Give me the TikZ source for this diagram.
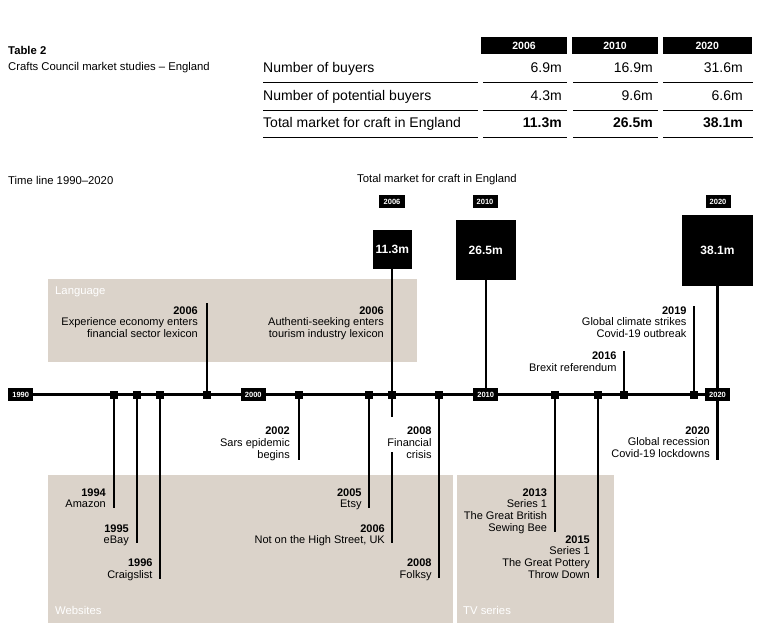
\documentclass[tikz,border=0pt]{standalone}
\usepackage{fontspec}
\setmainfont{Liberation Sans}
\definecolor{panel}{RGB}{219,211,202}
\begin{document}
\begin{tikzpicture}[x=1pt,y=-1pt,
 lbl/.style={font=\fontsize{11}{11.6}\selectfont, align=right, inner sep=0, anchor=north east},
 txt/.style={font=\fontsize{11.3}{12}\selectfont, inner sep=0, anchor=west},
 mk/.style={fill=black, minimum size=8, inner sep=0},
 yr/.style={fill=black, text=white, font=\fontsize{7.5}{8}\selectfont\bfseries, minimum width=25, minimum height=13, inner sep=0},
 big/.style={fill=black, text=white, font=\fontsize{12}{13}\selectfont\bfseries, inner sep=0},
 conn/.style={line width=2.2},
 hdr/.style={fill=black, text=white, font=\fontsize{10.5}{11}\selectfont\bfseries, minimum height=17, inner sep=0},
 rowl/.style={font=\fontsize{14}{15}\selectfont, inner sep=0, text height=10, text depth=2.8, anchor=west},
 rowv/.style={font=\fontsize{14}{15}\selectfont, inner sep=0, text height=10, text depth=2.8, anchor=east},
 rule/.style={line width=1},
]
\useasboundingbox (0,0) rectangle (782,640);

% ---------- Table ----------
\node[txt, font=\fontsize{11.3}{12}\selectfont\bfseries] (t2) at (8,50) {Table 2};
\node[txt] (t2s) at (8,68) {Crafts Council market studies – England};

\node[hdr, minimum width=86] (h2006) at (524,45.5) {2006};
\node[hdr, minimum width=86.6] (h2010) at (615,45.5) {2010};
\node[hdr, minimum width=89] (h2020) at (707.2,45.5) {2020};

\node[rowl] (r1) at (263,69) {Number of buyers};
\node[rowl] (r2) at (263,97) {Number of potential buyers};
\node[rowl] (r3) at (263,124) {Total market for craft in England};

\node[rowv] (v11) at (562,69) {6.9m};
\node[rowv] (v12) at (653,69) {16.9m};
\node[rowv] (v13) at (743,69) {31.6m};
\node[rowv] (v21) at (562,97) {4.3m};
\node[rowv] (v22) at (653,97) {9.6m};
\node[rowv] (v23) at (743,97) {6.6m};
\node[rowv, font=\fontsize{14}{15}\selectfont\bfseries] (v31) at (562,124) {11.3m};
\node[rowv, font=\fontsize{14}{15}\selectfont\bfseries] (v32) at (653,124) {26.5m};
\node[rowv, font=\fontsize{14}{15}\selectfont\bfseries] (v33) at (743,124) {38.1m};

\foreach \yy in {82.3,110,137.3}{
  \draw[rule] (263,\yy) -- (478,\yy);
  \draw[rule] (483,\yy) -- (567,\yy);
  \draw[rule] (573,\yy) -- (658,\yy);
  \draw[rule] (663,\yy) -- (753,\yy);
}

% ---------- Panels ----------
\fill[panel] (48,279) rectangle (417,362);
\fill[panel] (48,475) rectangle (453,623);
\fill[panel] (457,475) rectangle (614,623);
\node[txt, text=white] (pl) at (55,292) {Language};
\node[txt, text=white] (pw) at (55,610) {Websites};
\node[txt, text=white] (pt) at (463,610) {TV series};

% ---------- Titles ----------
\node[txt] (tl) at (8,180) {Time line 1990–2020};
\node[txt] (tm) at (357,180) {Total market for craft in England};

% ---------- Market boxes ----------
\node[yr, minimum width=26] (tag2006) at (392,201.5) {2006};
\node[yr, minimum width=25] (tag2010) at (485,201.5) {2010};
\node[yr, minimum width=25] (tag2020) at (718,201.5) {2020};
\node[big, minimum size=39] (b2006) at (392.3,249.5) {11.3m};
\node[big, minimum size=60] (b2010) at (485.7,250) {26.5m};
\node[big, minimum size=71] (b2020) at (717.5,250) {38.1m};

% ---------- Timeline nodes ----------
\def\ty{394.5}
\node[yr] (y1990) at (20.7,\ty) {1990};
\node[yr] (y2000) at (253.3,\ty) {2000};
\node[yr] (y2010) at (485.7,\ty) {2010};
\node[yr] (y2020) at (717.5,\ty) {2020};

\coordinate (e1994) at (114,508);
\coordinate (e1995) at (137.3,543);
\coordinate (e1996) at (160.3,579);
\coordinate (elex) at (206.7,303);
\coordinate (e2002) at (299.3,460);
\coordinate (e2005) at (369.3,508);
\coordinate (e2006) at (392.3,543);
\coordinate (e2008) at (439.3,578);
\coordinate (e2013) at (555.3,532);
\coordinate (e2015) at (598.3,578);
\coordinate (e2016) at (624.3,351);
\coordinate (e2019) at (694.3,306);
\coordinate (e2020) at (717.5,460);

% connectors
\draw[conn] (y1990.east) -- (y2000.west);
\draw[conn] (y2000.east) -- (y2010.west);
\draw[conn] (y2010.east) -- (y2020.west);

\draw[conn] (114,\ty) -- (e1994);
\draw[conn] (137.3,\ty) -- (e1995);
\draw[conn] (160.3,\ty) -- (e1996);
\draw[conn] (206.7,\ty) -- (elex);
\draw[conn] (299.3,\ty) -- (e2002);
\draw[conn] (369.3,\ty) -- (e2005);
\draw[conn] (b2006.south) -- (e2006);
\draw[conn] (439.3,\ty) -- (e2008);
\draw[conn] (b2010.south) -- (y2010.north);
\draw[conn] (555.3,\ty) -- (e2013);
\draw[conn] (598.3,\ty) -- (e2015);
\draw[conn] (624.3,\ty) -- (e2016);
\draw[conn] (694.3,\ty) -- (e2019);
\draw[conn] (b2020.south) -- (y2020.north);
\draw[conn] (y2020.south) -- (e2020);

% markers
\node[mk] (m1994) at (114,\ty) {};
\node[mk] (m1995) at (137.3,\ty) {};
\node[mk] (m1996) at (160.3,\ty) {};
\node[mk] (mlex) at (206.7,\ty) {};
\node[mk] (m2002) at (299.3,\ty) {};
\node[mk] (m2005) at (369.3,\ty) {};
\node[mk] (m2006) at (392.3,\ty) {};
\node[mk] (m2008) at (439.3,\ty) {};
\node[mk] (m2013) at (555.3,\ty) {};
\node[mk] (m2015) at (598.3,\ty) {};
\node[mk] (m2016) at (624.3,\ty) {};
\node[mk] (m2019) at (694.3,\ty) {};

% white mask behind financial crisis label
\fill[white] (386,417) rectangle (434,452);

% ---------- Labels ----------
\node[lbl] (l1994) at (106,488.5) {\textbf{1994}\\Amazon};
\node[lbl] (l1995) at (129,524.5) {\textbf{1995}\\eBay};
\node[lbl] (l1996) at (152.7,559) {\textbf{1996}\\Craigslist};
\node[lbl] (llex) at (198,306.5) {\textbf{2006}\\Experience economy enters\\financial sector lexicon};
\node[lbl] (lauth) at (384,306.5) {\textbf{2006}\\Authenti-seeking enters\\tourism industry lexicon};
\node[lbl] (l2002) at (290,427) {\textbf{2002}\\Sars epidemic\\begins};
\node[lbl] (lfin) at (431.7,427) {\textbf{2008}\\Financial\\crisis};
\node[lbl] (l2005) at (361.7,488.5) {\textbf{2005}\\Etsy};
\node[lbl] (l2006) at (385,524.5) {\textbf{2006}\\Not on the High Street, UK};
\node[lbl] (l2008) at (431.7,559) {\textbf{2008}\\Folksy};
\node[lbl] (l2013) at (547.3,488.5) {\textbf{2013}\\Series 1\\The Great British\\Sewing Bee};
\node[lbl] (l2015) at (590,535.5) {\textbf{2015}\\Series 1\\The Great Pottery\\Throw Down};
\node[lbl] (l2016) at (616.7,352) {\textbf{2016}\\Brexit referendum};
\node[lbl] (l2019) at (686.7,306.5) {\textbf{2019}\\Global climate strikes\\Covid-19 outbreak};
\node[lbl] (l2020) at (710,426.5) {\textbf{2020}\\Global recession\\Covid-19 lockdowns};
\end{tikzpicture}
\end{document}
